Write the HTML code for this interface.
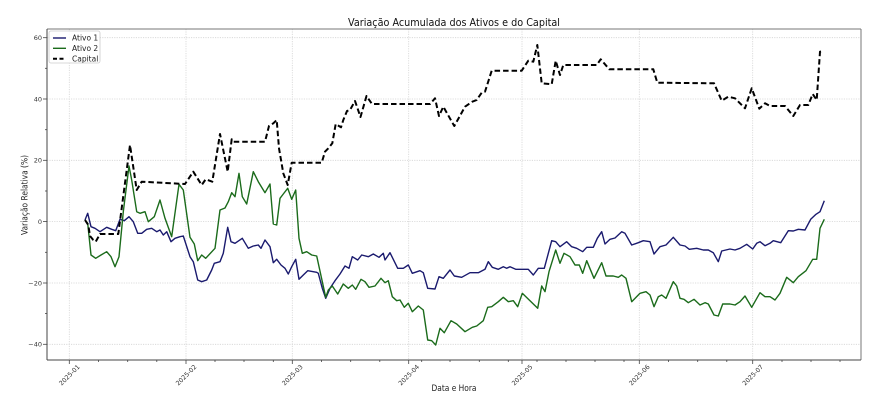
<!DOCTYPE html>
<html><head><meta charset="utf-8"><style>
html,body{margin:0;padding:0;background:#fff;}
svg{display:block;font-family:"DejaVu Sans","Liberation Sans",sans-serif;}
</style></head><body>
<svg width="884" height="408" viewBox="0 0 884 408" xmlns="http://www.w3.org/2000/svg">
<rect width="884" height="408" fill="#fff"/>
<text x="454" y="26" font-size="10.3" text-anchor="middle" fill="#111" textLength="212" lengthAdjust="spacingAndGlyphs">Variação Acumulada dos Ativos e do Capital</text>
<g stroke="#d4d4d4" stroke-width="0.8" stroke-dasharray="1.2,1.2">
<line x1="69.3" y1="29" x2="69.3" y2="360"/><line x1="186" y1="29" x2="186" y2="360"/><line x1="292.3" y1="29" x2="292.3" y2="360"/><line x1="408.7" y1="29" x2="408.7" y2="360"/><line x1="522" y1="29" x2="522" y2="360"/><line x1="639.3" y1="29" x2="639.3" y2="360"/><line x1="752.7" y1="29" x2="752.7" y2="360"/>
<line x1="47" y1="37.7" x2="861" y2="37.7"/><line x1="47" y1="99" x2="861" y2="99"/><line x1="47" y1="160.3" x2="861" y2="160.3"/><line x1="47" y1="221.6" x2="861" y2="221.6"/><line x1="47" y1="283" x2="861" y2="283"/><line x1="47" y1="344.3" x2="861" y2="344.3"/>
</g>
<polyline fill="none" stroke="#1a1a6e" stroke-width="1.4" stroke-linejoin="round" points="85,220 87.7,213.3 91,226.7 95,228.3 100,231.7 106.7,227.3 111.7,229.3 115.7,230.7 120,219.3 124.3,220.7 129,216.7 133.3,221.7 137.7,233.3 141.7,233.3 146.7,229.3 151.7,228.3 156.7,231.7 160,230 163.3,235 166.7,231.7 171,241.7 175,238.3 180,236.7 183.3,236 190,256.7 193.3,261.7 197.7,280 201.7,281.7 206.7,280 211.7,270 214.3,263.3 220,261.7 223.3,253.3 227.7,227.3 231,241.7 235,243.3 242.3,238.3 248.3,248.3 253.3,246 258.3,245 261,248.3 265,240 270,246.7 273.3,262.7 276.7,259.3 281,265 285,268.3 288.3,274 291.7,266.7 295.7,259.3 299,279.3 303.3,275 307.7,270.7 316.7,272.3 318.3,273.3 322.3,288.3 325.7,298.3 330,288.3 335,280.7 340,274 345,266 349,268.3 352.3,256.7 357.7,260 361.7,255 368.3,256.7 373.3,254 379,257.3 383.3,253.3 385,260 390,252.7 397.7,268.3 403.3,268.3 408.3,265 412.3,273.3 420,270.7 423.3,272.7 427.7,288.3 435,289 439,276.7 443.3,278.3 450,270 454.3,276 461.7,277.3 470,272.7 478.3,272.7 485,269.3 488.3,261.7 492.3,267.3 498.3,269.3 503.3,266.7 506.7,268.3 510,266.7 515.7,269.3 528.3,269.3 533.3,275 538.3,268.3 544.3,268.3 551.7,240.7 555.7,241.7 560,246.7 566.7,241.7 571.7,246.7 576.7,248.3 582.7,251.7 586.7,247.3 593.3,247.3 597.3,238.3 601.7,231.7 605,244 610,239.3 615,238 621.7,231.7 625,233.3 631.7,245 638.3,242.7 643.3,240.7 650,241.7 654,254 660,246.7 666,245 673.3,237.3 680,245 685,246 689.3,249.3 696.7,248.3 703.3,250 708.3,250 713.3,252.7 718.3,261.7 721.7,251 730,249 735,250 740,248.3 746.7,244.3 752.7,249 756.7,243.3 760,241.7 765,245.7 770,243.3 773.3,240.7 780.7,242.7 788.3,230.7 793.3,231 798.3,229.3 805,230 810.7,219.3 816,214.3 820,211.7 824.3,200.7"/>
<polyline fill="none" stroke="#1b6b1b" stroke-width="1.4" stroke-linejoin="round" points="85,220 87.7,223.3 91,255 95.7,258.3 101,255 106.7,251.7 111,256.7 115,266.7 119,256.7 123.3,211.7 129,166 131.7,180 136.7,211.7 140,213.3 145,211.7 148.3,221.7 154.3,216.7 160,200 165,218.3 171.7,236.7 179,184.3 183.3,190 190,237.3 194.3,244 197.7,260.7 201.7,255 205.7,258.3 215,248.3 220,210 225,208 228.3,201.7 231.7,192.7 235,196.7 239,173.3 242.3,196.7 246.7,204 253.3,171.7 258.3,181.7 265,192.7 270,184 273.3,224 276.7,225 280,198.3 283.3,194 287.7,188.3 291.7,199.3 295.7,190 299,238.3 302.3,253.3 306.7,251.7 311.7,255 316.7,256 325.7,297.3 328.3,290 332.3,286 337.7,294 343.3,284 348.3,288.3 352.3,285 355.7,289.3 361,279.3 365,281.7 369,287.3 375,286 381,278.3 385,282.7 388.3,280.7 392.3,296.7 396.7,300.7 400,300 404.3,307.3 408.3,303.3 412.3,311.7 418.3,306 423.3,310 427.7,340 431.7,340.7 435.7,345 440,328.3 444.3,332.7 451,320.7 456.7,324 465,331.7 472.3,327.3 476.7,326 483.3,320.7 487.7,307.3 491.7,306.7 498.3,301.7 503.3,297.3 508.3,301.7 513.3,300.7 517.7,306.7 522.3,293.3 530,300.7 537.7,308.3 541.7,286 545,291.7 549,271.7 555.7,250 560,263.3 564,253.3 570,256.7 575,265 579.3,265 582.7,273.3 586.7,260.7 594,278.3 601.7,262.7 606,276 613.3,276 618.3,277.3 621.7,275 626,278.3 631.7,301.7 640,293.3 646,291.7 650,295 654,306.7 658.3,296.7 661.7,295 666,298.3 673.3,281.7 676.7,286 680,298.3 684,299.3 688.3,302.7 694,299.3 700,305 705,302.7 708.3,304 714,315 718.3,316 722.7,304 730,304 735,305 740,301.7 745,296 751.7,307.3 760,292.7 765,296.7 770,296.7 775,300 780,293.3 786.7,277.3 793.3,282.7 798.3,276.7 806,270.7 812.7,259.3 816.7,259.3 820,228.3 824.3,219.3"/>
<polyline fill="none" stroke="#000" stroke-width="2" stroke-dasharray="5.5,3" stroke-linejoin="round" points="85,220 88.3,225 90,236 93.3,240 95.7,241.7 100,234 118.3,234 130,145 136.7,190 141.7,181.7 185,184 193.3,171.7 201.7,185 205.7,179.3 212.3,181.7 220,134 227.7,171.7 231.7,139.3 233.3,141.7 265,141.7 269,126 273.3,123.3 276.7,120 279,148.3 283.3,173.3 287.7,185 291.7,162.7 321.7,162.7 325,151.7 328.3,148.3 332.3,143.3 335.7,124 341,127.3 343.3,120 347,111 350,110 355,101 360.5,117 366.5,96 372,104 430,104 435,98.3 439,116 443.3,106.7 454.3,126 465,106.7 472.3,101.7 476.7,100 481.7,92.7 485,91.7 491.7,70.7 521.7,70.7 528.3,60.7 533.3,61.7 537.3,45 541.7,83.3 551.7,84.3 555.7,60.7 560,75 563.3,65 596.7,65 600.7,59.3 609.3,69.3 653.3,69.3 657.3,82.7 714,83.3 721.7,100.7 728.3,96.7 735,98.3 745,108.3 751.7,88.3 759.3,108.7 765,103.3 770,106 785,106 793.3,116 800,105 808.3,105 812.7,94 816.7,100 820,51.7 823.3,51"/>
<g fill="none" stroke-width="1">
<line x1="47" y1="29" x2="861" y2="29" stroke="#777"/>
<line x1="861" y1="29" x2="861" y2="360" stroke="#777"/>
<line x1="47" y1="29" x2="47" y2="360" stroke="#444"/>
<line x1="47" y1="360" x2="861" y2="360" stroke="#444"/>
</g>
<g stroke="#444" stroke-width="0.8">
<line x1="69.3" y1="360" x2="69.3" y2="364"/><line x1="186" y1="360" x2="186" y2="364"/><line x1="292.3" y1="360" x2="292.3" y2="364"/><line x1="408.7" y1="360" x2="408.7" y2="364"/><line x1="522" y1="360" x2="522" y2="364"/><line x1="639.3" y1="360" x2="639.3" y2="364"/><line x1="752.7" y1="360" x2="752.7" y2="364"/>
<line x1="98.5" y1="360" x2="98.5" y2="362"/><line x1="127.7" y1="360" x2="127.7" y2="362"/><line x1="156.8" y1="360" x2="156.8" y2="362"/>
<line x1="215" y1="360" x2="215" y2="362"/><line x1="244" y1="360" x2="244" y2="362"/><line x1="273.3" y1="360" x2="273.3" y2="362"/>
<line x1="321.5" y1="360" x2="321.5" y2="362"/><line x1="350.7" y1="360" x2="350.7" y2="362"/><line x1="379.8" y1="360" x2="379.8" y2="362"/>
<line x1="421.7" y1="360" x2="421.7" y2="362"/><line x1="450" y1="360" x2="450" y2="362"/><line x1="479.3" y1="360" x2="479.3" y2="362"/><line x1="508.3" y1="360" x2="508.3" y2="362"/>
<line x1="537" y1="360" x2="537" y2="362"/><line x1="566" y1="360" x2="566" y2="362"/><line x1="595" y1="360" x2="595" y2="362"/><line x1="624" y1="360" x2="624" y2="362"/>
<line x1="668.5" y1="360" x2="668.5" y2="362"/><line x1="697.7" y1="360" x2="697.7" y2="362"/><line x1="726.8" y1="360" x2="726.8" y2="362"/>
<line x1="782" y1="360" x2="782" y2="362"/><line x1="811" y1="360" x2="811" y2="362"/><line x1="840" y1="360" x2="840" y2="362"/>
<line x1="43" y1="37.7" x2="47" y2="37.7"/><line x1="43" y1="99" x2="47" y2="99"/><line x1="43" y1="160.3" x2="47" y2="160.3"/><line x1="43" y1="221.6" x2="47" y2="221.6"/><line x1="43" y1="283" x2="47" y2="283"/><line x1="43" y1="344.3" x2="47" y2="344.3"/>
<line x1="45" y1="68.3" x2="47" y2="68.3"/><line x1="45" y1="129.7" x2="47" y2="129.7"/><line x1="45" y1="191" x2="47" y2="191"/><line x1="45" y1="252.3" x2="47" y2="252.3"/><line x1="45" y1="313.6" x2="47" y2="313.6"/>
</g>
<g font-size="6.5" fill="#333" text-anchor="end">
<text x="42" y="40">60</text><text x="42" y="101.3">40</text><text x="42" y="162.6">20</text><text x="42" y="223.9">0</text><text x="42" y="285.3">−20</text><text x="42" y="346.6">−40</text>
</g>
<g font-size="6.3" fill="#333" text-anchor="middle">
<text x="69.3" y="377.3" transform="rotate(-45 69.3 375)">2025-01</text>
<text x="186" y="377.3" transform="rotate(-45 186 375)">2025-02</text>
<text x="292.3" y="377.3" transform="rotate(-45 292.3 375)">2025-03</text>
<text x="408.7" y="377.3" transform="rotate(-45 408.7 375)">2025-04</text>
<text x="522" y="377.3" transform="rotate(-45 522 375)">2025-05</text>
<text x="639.3" y="377.3" transform="rotate(-45 639.3 375)">2025-06</text>
<text x="752.7" y="377.3" transform="rotate(-45 752.7 375)">2025-07</text>
</g>
<text x="454" y="391" font-size="8.5" text-anchor="middle" fill="#222" textLength="45" lengthAdjust="spacingAndGlyphs">Data e Hora</text>
<text x="0" y="0" font-size="8.5" text-anchor="middle" fill="#222" transform="translate(27.5 195) rotate(-90)" textLength="80" lengthAdjust="spacingAndGlyphs">Variação Relativa (%)</text>
<rect x="49" y="31" width="51" height="32" rx="2" fill="#fff" fill-opacity="0.85" stroke="#ccc" stroke-width="0.8"/>
<line x1="53" y1="38" x2="66" y2="38" stroke="#1a1a6e" stroke-width="1.4"/>
<line x1="53" y1="48.3" x2="66" y2="48.3" stroke="#1b6b1b" stroke-width="1.4"/>
<line x1="53" y1="58.7" x2="66" y2="58.7" stroke="#000" stroke-width="2" stroke-dasharray="4,2.5"/>
<g font-size="7.5" fill="#222">
<text x="72" y="40.7">Ativo 1</text>
<text x="72" y="51">Ativo 2</text>
<text x="72" y="61.4">Capital</text>
</g>
</svg>
</body></html>
